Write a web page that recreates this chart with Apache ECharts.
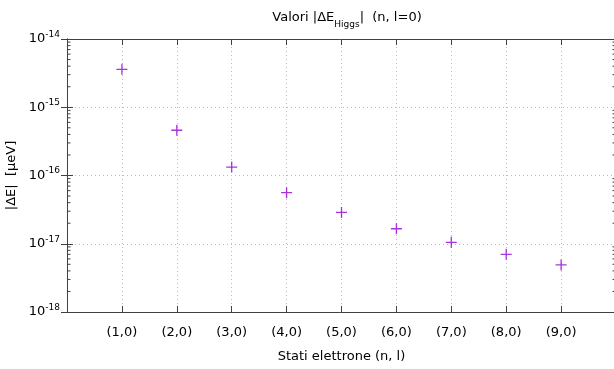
<!DOCTYPE html>
<html>
<head>
<meta charset="utf-8">
<script src="https://cdn.jsdelivr.net/npm/echarts@6/dist/echarts.min.js"></script>
<style>html,body{margin:0;padding:0;background:#fff}#c{width:614px;height:369px}</style>
</head>
<body>
<div id="c"></div>
<script>
// ---- data ----
const categories = ["(1,0)","(2,0)","(3,0)","(4,0)","(5,0)","(6,0)","(7,0)","(8,0)","(9,0)"];
const deltaE = [3.6e-15, 4.6e-16, 1.33e-16, 5.6e-17, 2.88e-17, 1.66e-17, 1.05e-17, 7.0e-18, 4.9e-18];
const yDecades = [1e-18, 1e-17, 1e-16, 1e-15, 1e-14];
const minorMult = [2,3,4,5,6,7,8,9];

const minorTicks = [];
for (let i = 0; i < yDecades.length - 1; i++) for (const m of minorMult) minorTicks.push(yDecades[i] * m);

const FONT = 'DejaVu Sans';
const AX = '#404040';
const X_MIN = 0, X_MAX = categories.length + 1;
const grid = {left: 67, top: 39, width: 549, height: 273, outerBoundsMode: 'none', containLabel: false};
const pts = deltaE.map((v, i) => [i + 1, v]);

const yBase = {type: 'log', logBase: 10, min: yDecades[0], max: yDecades[yDecades.length-1]};
const chart = echarts.init(document.getElementById('c'), null, {renderer: 'canvas'});
chart.setOption({
  animation: false,
  backgroundColor: '#fff',
  title: {
    text: 'Valori |ΔE{sub|Higgs}|  (n, l=0)',
    left: 342, top: 6, textAlign: 'center',
    textStyle: {fontFamily: FONT, fontSize: 13, fontWeight: 'normal', color: '#000',
      rich: {sub: {fontFamily: FONT, fontSize: 9, verticalAlign: 'bottom', padding: [0,0,-5,0], color:'#000'}}}
  },
  grid: grid,
  xAxis: [
    {type: 'value', min: X_MIN, max: X_MAX, interval: 1, position: 'bottom',
     axisLine: {show: true, lineStyle: {color: AX, width: 1}},
     axisTick: {show: true, inside: true, length: 6, lineStyle: {color: AX}},
     axisLabel: {fontFamily: FONT, fontSize: 13, color: '#000', margin: 14,
       formatter: v => (v >= 1 && v <= categories.length) ? categories[v - 1] : ''},
     splitLine: {show: true, lineStyle: {color: '#bbbbbb', type: [1, 3], width: 1}},
     name: 'Stati elettrone (n, l)', nameLocation: 'middle', nameGap: 38,
     nameTextStyle: {fontFamily: FONT, fontSize: 13, color: '#000'}},
    {type: 'value', min: X_MIN, max: X_MAX, interval: 1, position: 'top',
     axisLine: {show: true, lineStyle: {color: AX, width: 1}},
     axisTick: {show: true, inside: true, length: 6, lineStyle: {color: AX}},
     axisLabel: {show: false}, splitLine: {show: false}}
  ],
  yAxis: [
    Object.assign({}, yBase, {position: 'left',
      axisLine: {show: true, lineStyle: {color: AX, width: 1}},
      axisTick: {show: true, inside: true, length: 6, lineStyle: {color: AX}},
      axisLabel: {fontFamily: FONT, fontSize: 13, color: '#000', margin: 7,
        formatter: v => '10{sup|' + Math.round(Math.log10(v)) + '}',
        rich: {sup: {fontFamily: FONT, fontSize: 9, verticalAlign: 'top', padding: [0,0,9,0], color: '#000'}}},
      splitLine: {show: true, lineStyle: {color: '#bbbbbb', type: [1, 3], width: 1}},
      name: '|ΔE|  [µeV]', nameLocation: 'middle', nameGap: 44, nameRotate: 90,
      nameTextStyle: {fontFamily: FONT, fontSize: 13, color: '#000'}}),
    Object.assign({}, yBase, {position: 'right',
      axisLine: {show: true, lineStyle: {color: AX, width: 1}},
      axisTick: {show: true, inside: true, length: 6, lineStyle: {color: AX}},
      axisLabel: {show: false}, splitLine: {show: false}})
  ],
  series: [
    {
      type: 'custom', xAxisIndex: 0, yAxisIndex: 0, silent: true, clip: false,
      data: minorTicks.map(v => [X_MIN, v]),
      renderItem: function (params, api) {
        const v = api.value(1);
        const pl = api.coord([X_MIN, v]);
        const pr = api.coord([X_MAX, v]);
        const st = {stroke: AX, lineWidth: 1};
        return {type: 'group', children: [
          {type: 'line', shape: {x1: pl[0], y1: pl[1], x2: pl[0] + 3.5, y2: pl[1]}, style: st},
          {type: 'line', shape: {x1: pr[0], y1: pr[1], x2: pr[0] - 3.5, y2: pr[1]}, style: st}
        ]};
      }
    },
    {
      type: 'scatter', xAxisIndex: 0, yAxisIndex: 0,
      data: pts,
      symbol: 'path://M0,5L10,5M5,0L5,10',
      symbolSize: 11,
      itemStyle: {color: 'rgba(0,0,0,0)', borderColor: '#9400d3', borderWidth: 1.3},
      emphasis: {disabled: true}
    }
  ]
});
</script>
</body>
</html>
